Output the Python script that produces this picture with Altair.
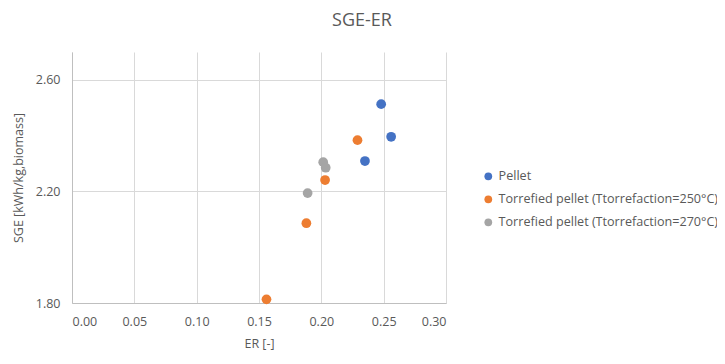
import altair as alt
import pandas as pd

series = ["Pellet", "Torrefied pellet (Ttorrefaction=250°C)", "Torrefied pellet (Ttorrefaction=270°C)"]
pellet_er = [0.248, 0.256, 0.235]
pellet_sge = [2.513, 2.396, 2.309]
t250_er = [0.229, 0.203, 0.188, 0.156]
t250_sge = [2.384, 2.241, 2.086, 1.813]
t270_er = [0.2015, 0.2035, 0.189]
t270_sge = [2.305, 2.285, 2.194]
colors = ["#4472C4", "#ED7D31", "#A5A5A5"]

rows = []
for name, xs, ys in zip(series, [pellet_er, t250_er, t270_er], [pellet_sge, t250_sge, t270_sge]):
    for x, y in zip(xs, ys):
        rows.append({"series": name, "ER": x, "SGE": y})
df = pd.DataFrame(rows)

font = "Open Sans"
txt = "#595959"

chart = alt.Chart(df).mark_point(filled=True, size=95, opacity=1).encode(
    x=alt.X("ER:Q", title="ER [-]",
            scale=alt.Scale(domain=[0, 0.30], nice=False, zero=False),
            axis=alt.Axis(values=[0, 0.05, 0.10, 0.15, 0.20, 0.25, 0.30], format=".2f",
                          tickSize=0, labelPadding=12, titlePadding=10,
                          domainColor="#bfbfbf", gridColor="#d9d9d9")),
    y=alt.Y("SGE:Q", title="SGE [kWh/kg,biomass]",
            scale=alt.Scale(domain=[1.8, 2.7], nice=False, zero=False),
            axis=alt.Axis(values=[1.8, 2.2, 2.6], format=".2f",
                          tickSize=0, labelPadding=12, titlePadding=10,
                          domainColor="#bfbfbf", gridColor="#d9d9d9")),
    color=alt.Color("series:N", title=None,
                    scale=alt.Scale(domain=series, range=colors),
                    legend=alt.Legend(orient="none", legendX=410, legendY=118,
                                      symbolType="circle", symbolSize=60,
                                      rowPadding=10, labelFontSize=12.6, labelColor=txt,
                                      labelFont=font, labelLimit=400)),
).properties(
    width=374, height=251,
    autosize=alt.AutoSizeParams(type="none"),
    padding={"left": 64, "top": 44, "right": 271, "bottom": 53},
    title=alt.TitleParams("SGE-ER", fontSize=18, font=font, color=txt,
                          fontWeight="normal", anchor="middle", dx=103, offset=22),
).configure_axis(
    labelFont=font, titleFont=font, labelFontSize=12.5, titleFontSize=12.5,
    labelColor=txt, titleColor=txt, titleFontWeight="normal",
).configure_view(stroke=None)

chart.save("out.html", embed_options={"renderer": "svg", "actions": False})
